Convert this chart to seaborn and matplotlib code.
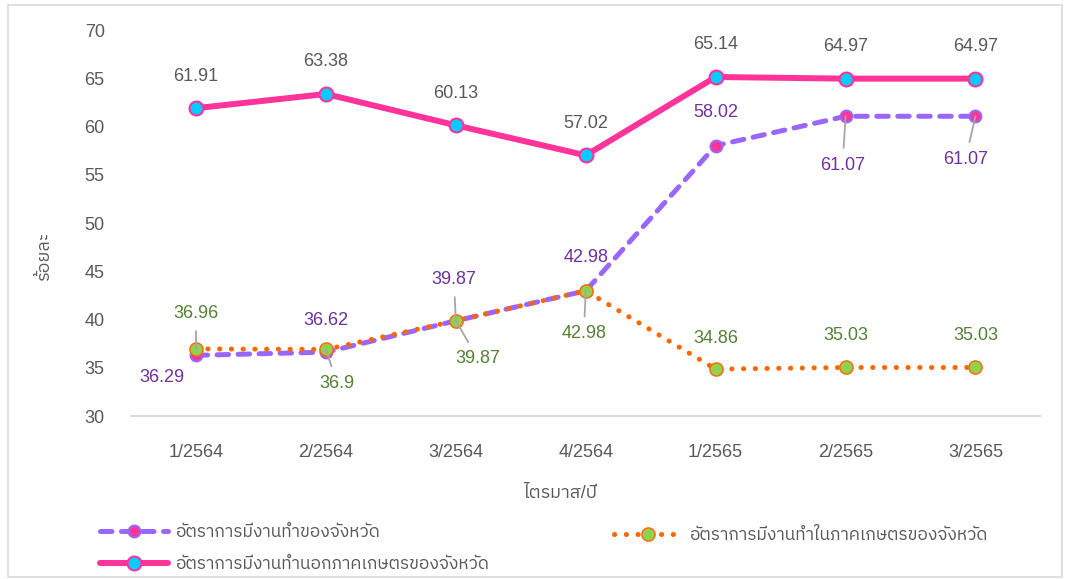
import matplotlib
matplotlib.use("Agg")
import matplotlib.pyplot as plt
from matplotlib import font_manager
from matplotlib.ft2font import FT2Font
from matplotlib.patches import Rectangle
import pandas as pd
import seaborn as sns

quarters = ["1/2564", "2/2564", "3/2564", "4/2564", "1/2565", "2/2565", "3/2565"]
total_rate = [36.29, 36.62, 39.87, 42.98, 58.02, 61.07, 61.07]
agri_rate = [36.96, 36.90, 39.87, 42.98, 34.86, 35.03, 35.03]
nonagri_rate = [61.91, 63.38, 60.13, 57.02, 65.14, 64.97, 64.97]

label_total = "อัตราการมีงานทำของจังหวัด"
label_agri = "อัตราการมีงานทำในภาคเกษตรของจังหวัด"
label_nonagri = "อัตราการมีงานทำนอกภาคเกษตรของจังหวัด"
x_title = "ไตรมาส/ปี"
y_title = "ร้อยละ"


def find_thai_font():
    # look for any installed font that has Thai glyphs
    found = []
    for f in font_manager.fontManager.ttflist:
        try:
            if 0x0E2D in FT2Font(f.fname).get_charmap():
                found.append(f.name)
        except Exception:
            pass
    for name in found:
        if "Thai" in name:
            return name
    return found[0] if found else None


thai_font = find_thai_font()

sns.set_theme(style="white")
families = ["Liberation Sans"]
if thai_font:
    families.append(thai_font)
families.append("DejaVu Sans")
plt.rcParams["font.family"] = families

PURPLE = "#9966FF"
PINK = "#FF3399"
ORANGE = "#FF6600"
GREEN = "#92D050"
CYAN = "#00CCFF"
GREY_TXT = "#595959"

df = pd.DataFrame({"quarter": quarters, "total": total_rate,
                   "agri": agri_rate, "nonagri": nonagri_rate})

fig = plt.figure(figsize=(10.66, 5.79), dpi=100)
ax = fig.add_axes([0.123, 0.2815, 0.853, 0.6665])

sns.lineplot(data=df, x="quarter", y="total", ax=ax, sort=False, color=PURPLE,
             lw=3.6, linestyle=(0, (2.3, 1.9)), dash_capstyle="round",
             marker="o", markersize=8.5, markerfacecolor=PINK,
             markeredgecolor=PURPLE, markeredgewidth=1.5, label=label_total)
sns.lineplot(data=df, x="quarter", y="agri", ax=ax, sort=False, color=ORANGE,
             lw=3.6, linestyle=(0, (0.05, 2.3)), dash_capstyle="round",
             marker="o", markersize=9.5, markerfacecolor=GREEN,
             markeredgecolor=ORANGE, markeredgewidth=1.0, label=label_agri)
sns.lineplot(data=df, x="quarter", y="nonagri", ax=ax, sort=False, color=PINK,
             lw=4.3, marker="o", markersize=10, markerfacecolor=CYAN,
             markeredgecolor=PINK, markeredgewidth=1.5, label=label_nonagri)

ax.set_xlim(-0.5, 6.5)
ax.set_ylim(30, 70)
ax.set_yticks(range(30, 71, 5))
for s in ["left", "right", "top"]:
    ax.spines[s].set_visible(False)
ax.spines["bottom"].set_color("#d9d9d9")
ax.spines["bottom"].set_linewidth(1.5)
ax.tick_params(axis="both", length=0, labelsize=13, labelcolor=GREY_TXT)
ax.tick_params(axis="y", pad=19)
ax.tick_params(axis="x", pad=20)

ax.set_xlabel(x_title, fontsize=13, color=GREY_TXT)
ax.xaxis.set_label_coords(0.472, -0.2)
ax.xaxis.label.set_va("center")
ax.set_ylabel(y_title, fontsize=13, color=GREY_TXT)
ax.yaxis.set_label_coords(-0.095, 0.417)
ax.yaxis.label.set_va("center")

# data labels: (dx, dy) in pixels, with leader line flag
lead = dict(arrowstyle="-", color="#a6a6a6", lw=1.3, shrinkA=4, shrinkB=0)


def label_points(values, offsets, color, leaders):
    for q, v, (dx, dy), has_lead in zip(quarters, values, offsets, leaders):
        ax.annotate(f"{v:g}", xy=(q, v), xytext=(dx, dy),
                    textcoords="offset pixels", ha="center", va="center",
                    color=color, fontsize=13,
                    arrowprops=lead if has_lead else None)


label_points(nonagri_rate, [(0, 32)] * 7, GREY_TXT, [False] * 7)
label_points(total_rate,
             [(-34, -22), (0, 32), (-2, 41), (0, 33), (0, 33), (-3, -49), (-10, -43)],
             "#7030A0", [False, False, True, False, False, True, True])
label_points(agri_rate,
             [(0, 35), (11, -34), (22, -38), (-2, -43), (0, 31), (0, 32), (0, 32)],
             "#548235", [True, True, True, True, False, False, False])

ax.get_legend().remove()
handles, labels = ax.get_legend_handles_labels()
hmap = dict(zip(labels, handles))
leg1 = fig.legend([hmap[label_total], hmap[label_nonagri]], [label_total, label_nonagri],
                  loc="center left", bbox_to_anchor=(0.079, 0.053), frameon=False,
                  fontsize=12.5, handlelength=3.9, handletextpad=0.45,
                  labelspacing=0.95, labelcolor=GREY_TXT)
leg2 = fig.legend([hmap[label_agri]], [label_agri],
                  loc="center left", bbox_to_anchor=(0.561, 0.076), frameon=False,
                  fontsize=12.5, handlelength=3.9, handletextpad=0.45,
                  labelcolor=GREY_TXT)

fig.patches.append(Rectangle((0.0075, 0.003), 0.9885, 0.988, transform=fig.transFigure,
                             fill=False, ec="#d9d9d9", lw=1.2))

fig.savefig("out.png", dpi=100)
